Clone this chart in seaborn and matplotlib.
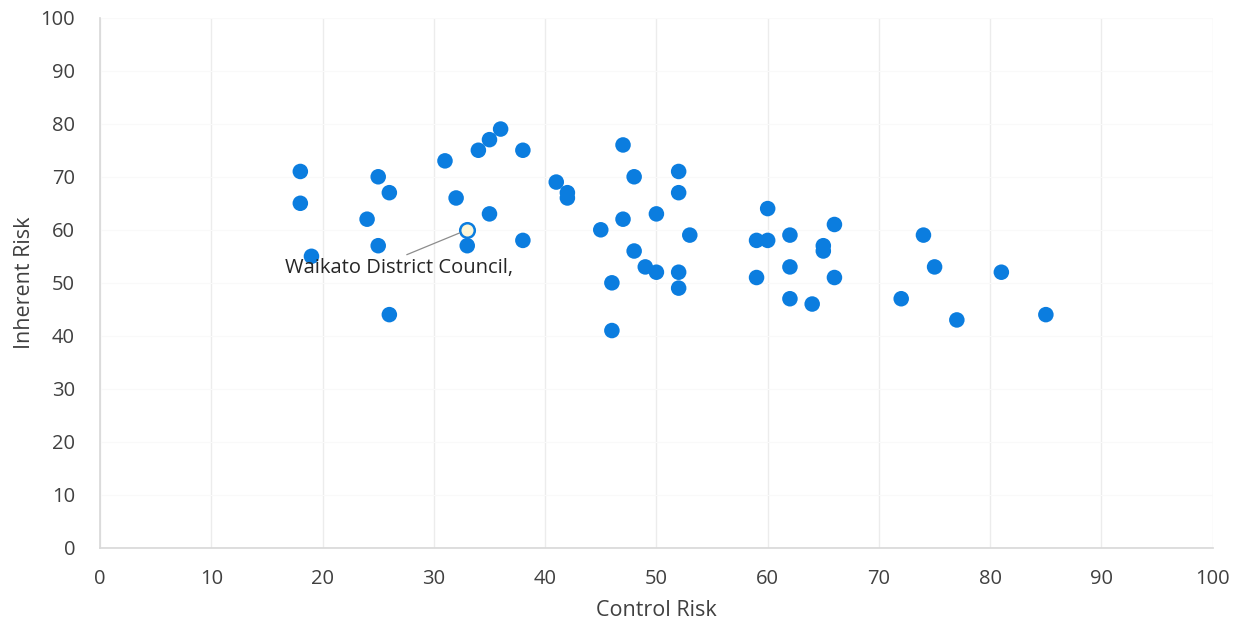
import matplotlib
matplotlib.use("Agg")
import matplotlib.pyplot as plt
import seaborn as sns
import pandas as pd

control_risk = [18, 18, 19, 24, 25, 25, 26, 26, 31, 32, 33, 34, 35, 35, 36, 38, 38,
                41, 42, 42, 45, 46, 46, 47, 47, 48, 48, 49, 50, 50, 52, 52, 52, 52, 53,
                59, 59, 60, 60, 62, 62, 62, 64, 65, 65, 66, 66, 72, 74, 75, 77, 81, 85]
inherent_risk = [71, 65, 55, 62, 70, 57, 67, 44, 73, 66, 57, 75, 77, 63, 79, 75, 58,
                 69, 67, 66, 60, 50, 41, 76, 62, 70, 56, 53, 63, 52, 71, 67, 52, 49, 59,
                 58, 51, 64, 58, 59, 53, 47, 46, 57, 56, 61, 51, 47, 59, 53, 43, 52, 44]
highlight_x = [33]
highlight_y = [60]
highlight_label = "Waikato District Council,"
ticks = [0, 10, 20, 30, 40, 50, 60, 70, 80, 90, 100]

sns.set_theme(style="white")
plt.rcParams['font.family'] = ['Open Sans', 'DejaVu Sans']

df = pd.DataFrame({"Control Risk": control_risk, "Inherent Risk": inherent_risk})

fig = plt.figure(figsize=(12.35, 6.32), dpi=100)
ax = fig.add_axes([0.081, 0.133, 0.901, 0.839])

sns.scatterplot(data=df, x="Control Risk", y="Inherent Risk", ax=ax,
                color="#0b7ddf", s=125, edgecolor="none", zorder=3)
sns.scatterplot(x=highlight_x, y=highlight_y, ax=ax, s=110,
                facecolor="#fbf6d8", edgecolor="#0b7ddf", linewidth=1.8, zorder=4)

ax.annotate(highlight_label, xy=(highlight_x[0], highlight_y[0]), xytext=(16.6, 52.8),
            textcoords="data", fontsize=14.5, color="#262626", va="center", ha="left",
            arrowprops=dict(arrowstyle="-", color="#8c8c8c", lw=0.9,
                            shrinkA=0, shrinkB=6, relpos=(0.5, 1.0)),
            zorder=5)

ax.set_xlim(0, 100)
ax.set_ylim(0, 100)
ax.set_xticks(ticks)
ax.set_yticks(ticks)
ax.grid(axis="x", color="#ececec", lw=1.0)
ax.grid(axis="y", color="#f9f9f9", lw=0.8)
for side in ["top", "right"]:
    ax.spines[side].set_visible(False)
ax.spines["left"].set_color("#d9d9d9")
ax.spines["bottom"].set_color("#d9d9d9")
ax.tick_params(axis="both", length=0, labelsize=14.5, labelcolor="#404040")
ax.tick_params(axis="x", pad=15)
ax.tick_params(axis="y", pad=18)
ax.set_xlabel("Control Risk", fontsize=15.5, color="#404040", labelpad=8)
ax.set_ylabel("Inherent Risk", fontsize=15.5, color="#404040")
ax.yaxis.set_label_coords(-0.068, 0.5)
ax.yaxis.label.set_verticalalignment("center")

fig.savefig("out.png", dpi=100)
